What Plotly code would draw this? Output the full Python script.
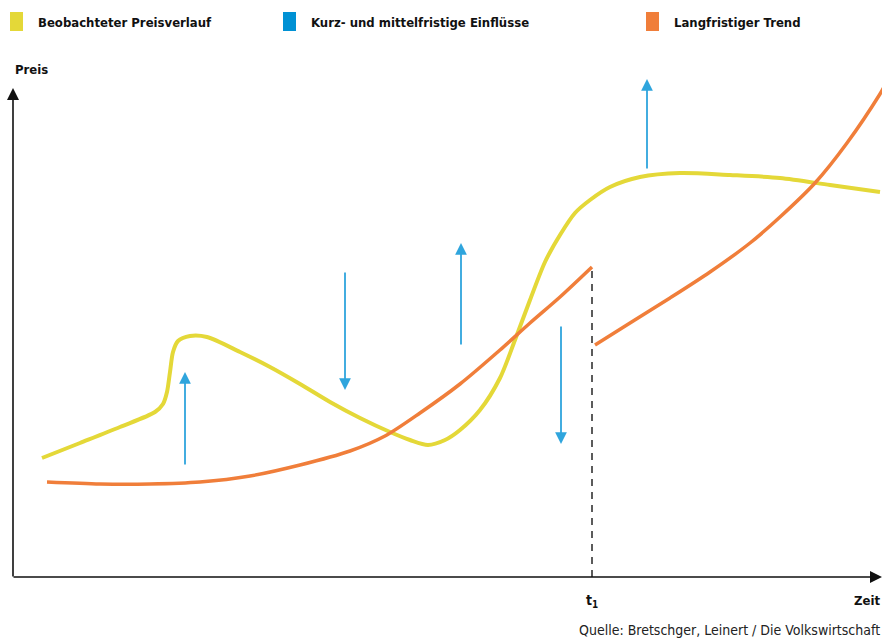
import plotly.graph_objects as go

# ---- data (time units, price units; origin at axis intersection) ----
obs_x = [29, 67, 107, 142, 150, 154, 157, 160, 165, 177, 194, 227, 257, 287, 317, 347, 377, 397, 415, 432, 447, 467, 487, 502, 517, 532, 547, 562, 577, 597, 627, 667, 717, 767, 817, 867]
obs_y = [119, 134, 150, 165, 173, 185, 205, 225, 236, 241, 240, 225, 210, 193, 175, 159, 145, 137, 132, 137, 147, 167, 199, 237, 277, 315, 342, 364, 377, 390, 400, 404, 402, 399, 392, 385]

trend1_x = [34, 87, 137, 187, 237, 287, 337, 372, 407, 447, 487, 517, 547, 579]
trend1_y = [95, 93, 93, 95, 101, 112, 126, 141, 164, 193, 227, 254, 280, 310]

trend2_x = [582, 617, 657, 697, 737, 767, 802, 834, 867, 871]
trend2_y = [232, 254, 279, 305, 334, 360, 394, 434, 483, 490]

# short/medium term influences: x, tail y, tip y
infl_x = [172, 332, 448, 548, 634]
infl_from = [111, 306, 231, 252, 407]
infl_to = [205, 187, 334, 133, 498]

t1 = 579
legend_labels = ["Beobachteter Preisverlauf", "Kurz- und mittelfristige Einflüsse", "Langfristiger Trend"]

YELLOW = "#E4D838"
BLUE = "#0091D4"
BLUE_ARROW = "#2FA5DD"
ORANGE = "#F07E3A"

fig = go.Figure()

fig.add_trace(go.Scatter(x=obs_x, y=obs_y, mode="lines",
                         line=dict(color=YELLOW, width=4, shape="spline", smoothing=0.8),
                         hoverinfo="skip"))
fig.add_trace(go.Scatter(x=trend1_x, y=trend1_y, mode="lines",
                         line=dict(color=ORANGE, width=3.5, shape="spline", smoothing=0.8),
                         hoverinfo="skip"))
fig.add_trace(go.Scatter(x=trend2_x, y=trend2_y, mode="lines",
                         line=dict(color=ORANGE, width=3.5, shape="spline", smoothing=0.8),
                         hoverinfo="skip"))
# dashed line at t1
fig.add_trace(go.Scatter(x=[t1, t1], y=[0, trend1_y[-1]], mode="lines",
                         line=dict(color="#333333", width=1.6, dash="7px,6px"),
                         hoverinfo="skip"))

ann = []
for x, y0, y1 in zip(infl_x, infl_from, infl_to):
    ann.append(dict(x=x, y=y1, ax=x, ay=y0, xref="x", yref="y", axref="x", ayref="y",
                    showarrow=True, arrowhead=2, arrowsize=1.3, arrowwidth=1.8,
                    arrowcolor=BLUE_ARROW, text="", standoff=0))

# axes arrows
ann.append(dict(x=869, y=0, ax=-1, ay=0, xref="x", yref="y", axref="x", ayref="y",
                showarrow=True, arrowhead=2, arrowsize=1.5, arrowwidth=1.6,
                arrowcolor="#111111", text="", standoff=0))
ann.append(dict(x=0, y=489, ax=0, ay=-1, xref="x", yref="y", axref="x", ayref="y",
                showarrow=True, arrowhead=2, arrowsize=1.5, arrowwidth=1.6,
                arrowcolor="#111111", text="", standoff=0))

LFONT = "DejaVu Sans Condensed, sans-serif"

ann.append(dict(x=0, y=508, xref="x", yref="y", text="<b>Preis</b>", showarrow=False,
                xanchor="left", yanchor="middle", font=dict(family=LFONT, size=13, color="#111111")))
ann.append(dict(x=t1, y=-24, xref="x", yref="y", text="<b>t<sub>1</sub></b>", showarrow=False,
                xanchor="center", yanchor="middle", font=dict(family=LFONT, size=14, color="#111111")))
ann.append(dict(x=1, y=-23, xref="paper", yref="y", text="<b>Zeit</b>", showarrow=False,
                xanchor="right", yanchor="middle", font=dict(family=LFONT, size=13, color="#111111")))
ann.append(dict(x=1, y=0, xref="paper", yref="paper", text="Quelle: Bretschger, Leinert / Die Volkswirtschaft",
                showarrow=False, xanchor="right", yanchor="bottom", yshift=-1,
                font=dict(family=LFONT, size=14, color="#222222")))

# legend (manual)
shapes = []
leg_x = [10, 283, 646]
leg_colors = [YELLOW, BLUE, ORANGE]
W, H = 882, 639
for lx, lc, lt in zip(leg_x, leg_colors, legend_labels):
    shapes.append(dict(type="rect", xref="paper", yref="paper",
                       x0=lx / W, x1=(lx + 13) / W, y0=1 - 31 / H, y1=1 - 12 / H,
                       fillcolor=lc, line=dict(width=0)))
    ann.append(dict(x=(lx + 26) / W, y=1 - 22 / H, xref="paper", yref="paper", text="<b>" + lt + "</b>",
                    showarrow=False, xanchor="left", yanchor="middle",
                    font=dict(family=LFONT, size=13, color="#111111")))

fig.update_layout(
    width=W, height=H, margin=dict(l=0, r=0, t=0, b=0),
    paper_bgcolor="white", plot_bgcolor="white",
    showlegend=False,
    xaxis=dict(range=[-13, 869], visible=False, fixedrange=True),
    yaxis=dict(range=[-62, 577], visible=False, fixedrange=True),
    annotations=ann, shapes=shapes,
)

fig.write_html("out.html")
